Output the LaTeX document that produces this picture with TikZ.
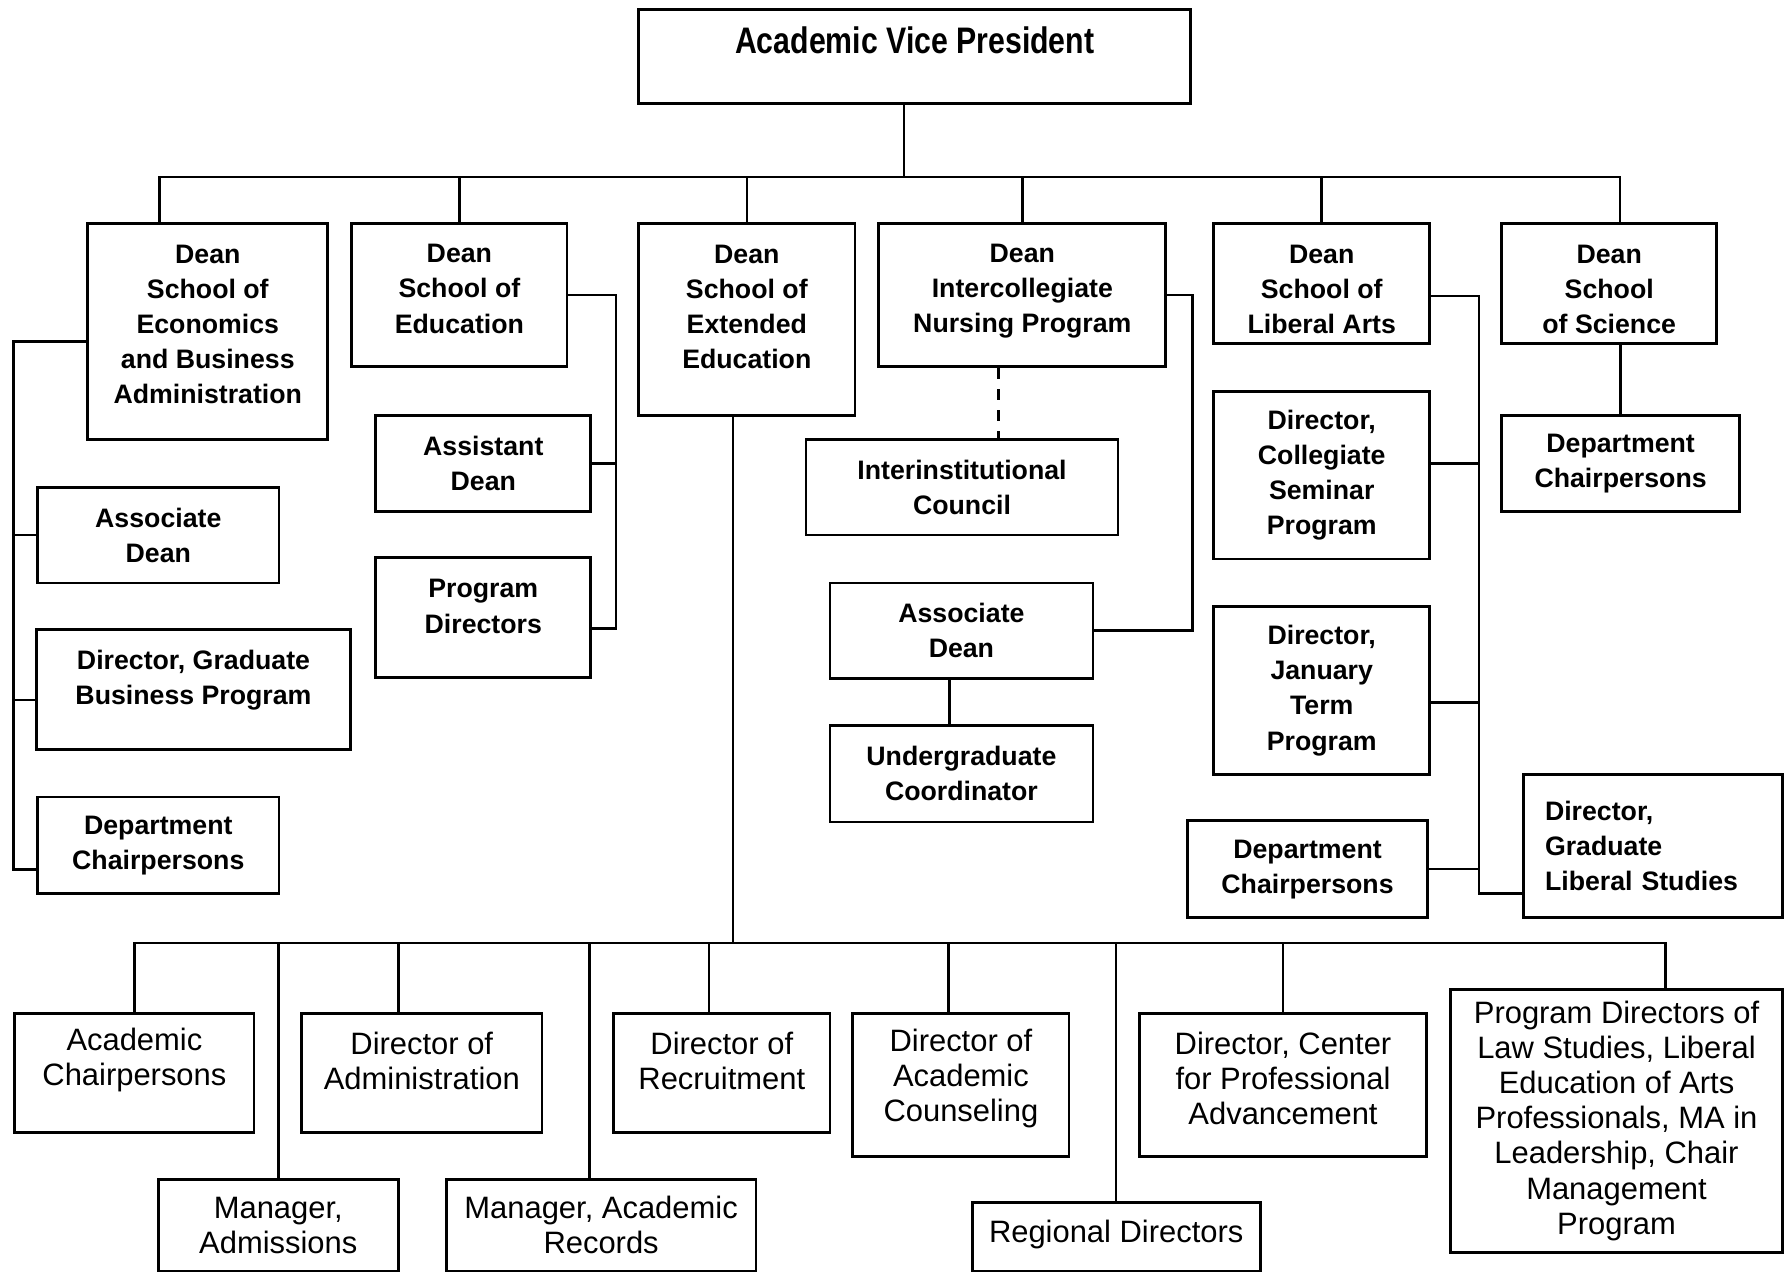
\documentclass[tikz,border=0pt]{standalone}
\usepackage{fontspec}
\setmainfont{Liberation Sans}
\newfontfamily\condfont[FakeStretch=0.82]{Liberation Sans}
\newcommand\vpfont{\condfont\fontsize{10.5}{12}\selectfont\bfseries}
\newcommand\deanfont{\fontsize{7.6}{10}\selectfont\bfseries}
\newcommand\postfont{\fontsize{8.8}{10}\selectfont}

\begin{document}
\begin{tikzpicture}
      [wh/.style 2 args={minimum width=#1cm, minimum height=#2cm},
      unit/.style={rectangle, draw, line width=0.8pt, align=center, inner sep=2pt,
        font=\deanfont},
      post/.style={unit, font=\postfont},
      link/.style={line width=0.7pt}]
      \useasboundingbox (0,0) rectangle (17.85,-12.75);
      % Place nodes
      \node [unit, wh={5.52}{0.945}, font=\vpfont] (avp) at (9.147,-0.564) {Academic Vice President\\[-2.6pt]};
      \node [unit, wh={2.40}{2.163}] (econ) at (2.078,-3.313) {Dean\\School of\\Economics\\and Business\\Administration\\[-6pt]};
      \node [unit, wh={2.151}{1.435}] (educ) at (4.594,-2.949) {Dean\\School of\\Education\\[-6.5pt]};
      \node [unit, wh={2.163}{1.924}] (ext) at (7.468,-3.193) {Dean\\School of\\Extended\\Education\\[-2.8pt]};
      \node [unit, wh={2.869}{1.435}] (nurs) at (10.223,-2.949) {Dean\\Intercollegiate\\Nursing Program\\[-6.4pt]};
      \node [unit, wh={2.163}{1.207}] (lib) at (13.217,-2.835) {\\[-1.3pt]Dean\\School of\\Liberal Arts};
      \node [unit, wh={2.151}{1.207}] (sci) at (16.092,-2.835) {\\[-1.3pt]Dean\\School\\of Science};
      % economics and business
      \node [unit, wh={2.413}{0.957}] (econassoc) at (1.583,-5.351) {Associate\\Dean};
      \node [unit, wh={3.142}{1.196}] (econgrad) at (1.935,-6.893) {Director, Graduate\\Business Program\\[-3.2pt]};
      \node [unit, wh={2.413}{0.967}] (econdept) at (1.583,-8.453) {Department\\Chairpersons};
      % education
      \node [unit, wh={2.151}{0.956}] (educasst) at (4.833,-4.633) {Assistant\\Dean};
      \node [unit, wh={2.151}{1.195}] (educprog) at (4.833,-6.176) {Program\\Directors\\[-3.6pt]};
      % nursing
      \node [unit, wh={3.119}{0.956}] (interinst) at (9.620,-4.872) {Interinstitutional\\Council};
      \node [unit, wh={2.63}{0.956}] (nursassoc) at (9.614,-6.307) {Associate\\Dean};
      \node [unit, wh={2.63}{0.967}] (nursug) at (9.614,-7.736) {Undergraduate\\Coordinator};
      % liberal arts
      \node [unit, wh={2.163}{1.674}] (libsem) at (13.217,-4.753) {Director,\\Collegiate\\Seminar\\Program};
      \node [unit, wh={2.163}{1.673}] (libjan) at (13.217,-6.905) {Director,\\January\\Term\\Program};
      \node [unit, wh={2.402}{0.968}] (libdept) at (13.075,-8.692) {Department\\Chairpersons};
      \node [unit, wh={2.595}{1.435}, text width=2.16cm, align=left] (libgrad) at (16.53,-8.459) {Director,\\Graduate\\Liberal Studies\\[-7pt]};
      % science
      \node [unit, wh={2.379}{0.956}] (scidept) at (16.206,-4.633) {Department\\Chairpersons};
      % extended education
      \node [post, wh={2.391}{1.195}] (acchair) at (1.344,-10.73) {Academic\\Chairpersons\\[-0.9pt]};
      \node [post, wh={2.402}{0.916}] (mgradm) at (2.783,-12.252) {Manager,\\Admissions};
      \node [post, wh={2.402}{1.195}] (diradm) at (4.218,-10.73) {Director of\\Administration\\[-2.8pt]};
      \node [post, wh={3.096}{0.916}] (mgrrec) at (6.011,-12.252) {Manager, Academic\\Records};
      \node [post, wh={2.163}{1.195}] (dirrec) at (7.218,-10.73) {Director of\\Recruitment\\[-2.8pt]};
      \node [post, wh={2.163}{1.434}] (dircoun) at (9.609,-10.849) {Director of\\Academic\\Counseling\\[-4.5pt]};
      \node [post, wh={2.88}{0.688}] (regdir) at (11.162,-12.366) {Regional Directors\\[-7pt]};
      \node [post, wh={2.869}{1.434}] (dircent) at (12.83,-10.849) {Director, Center\\for Professional\\Advancement\\[-6.4pt]};
      \node [post, wh={3.324}{2.629}] (progdir) at (16.165,-11.208) {Program Directors of\\Law Studies, Liberal\\Education of Arts\\Professionals, MA in\\Leadership, Chair\\Management\\Program};
      % Draw edges
      \coordinate (vpbus) at ([xshift=-1.08mm,yshift=-7.17mm]avp.south);
      \draw [link] ([xshift=-1.08mm]avp.south) -- (vpbus);
      \draw [link] ([xshift=-4.84mm]econ.north) |- (vpbus) -| ([xshift=1.08mm]sci.north);
      \foreach \n in {educ,ext,nurs,lib}
        \draw [link] (\n.north) -- (\n.north |- vpbus);
      % economics and business
      \coordinate (econbus) at ([xshift=-7.29mm,yshift=-1.02mm]econ.west);
      \draw [link] ([yshift=-1.02mm]econ.west) -- (econbus) |- ([yshift=-2.44mm]econdept.west);
      \draw [link] (econassoc.west) -- (econassoc.west -| econbus);
      \draw [link] ([yshift=-1.08mm]econgrad.west) -- ([yshift=-1.08mm]econgrad.west -| econbus);
      % education
      \coordinate (educbus) at ([xshift=4.77mm]educ.east);
      \draw [link] (educ.east) -- (educbus) |- ([yshift=-1.08mm]educprog.east);
      \draw [link] (educasst.east) -- (educasst.east -| educbus);
      % nursing
      \draw [link, dashed] ([xshift=-2.39mm]nurs.south) -- ([xshift=-2.39mm]nurs.south |- interinst.north);
      \coordinate (nursbus) at ([xshift=2.51mm]nurs.east);
      \draw [link] (nurs.east) -- (nursbus) |- (nursassoc.east);
      \draw [link] ([xshift=-1.2mm]nursassoc.south) -- ([xshift=-1.2mm]nursassoc.south |- nursug.north);
      % liberal arts
      \coordinate (libbus) at ([xshift=4.78mm,yshift=-1.25mm]lib.east);
      \draw [link] ([yshift=-1.25mm]lib.east) -- (libbus) |- ([yshift=-4.77mm]libgrad.west);
      \draw [link] ([yshift=1.2mm]libsem.east) -- ([yshift=1.2mm]libsem.east -| libbus);
      \draw [link] ([yshift=-1.19mm]libjan.east) -- ([yshift=-1.19mm]libjan.east -| libbus);
      \draw [link] (libdept.east) -- (libdept.east -| libbus);
      % science
      \draw [link] (scidept.north |- sci.south) -- (scidept.north);
      % extended education
      \coordinate (extbus) at ([xshift=-1.37mm,yshift=-52.6mm]ext.south);
      \draw [link] ([xshift=-1.37mm]ext.south) -- (extbus);
      \draw [link] (acchair.north) |- (extbus) -| ([xshift=4.9mm]progdir.north);
      \foreach \n/\dx in {mgradm/0,diradm/-2.34,mgrrec/-1.14,dirrec/-1.26,dircoun/-1.26,regdir/0,dircent/0}
        \draw [link] ([xshift=\dx mm]\n.north) -- ([xshift=\dx mm]\n.north |- extbus);

    \end{tikzpicture}
\end{document}
